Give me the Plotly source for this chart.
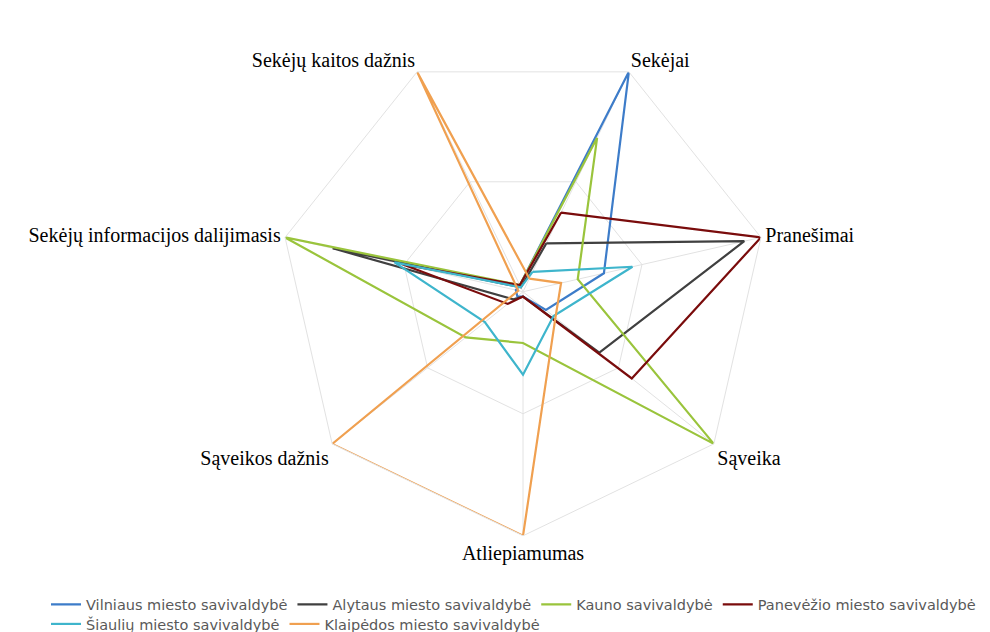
import plotly.graph_objects as go

# axes of the radar, clockwise from "Sekėjai"
categories = [
    "Sekėjai",
    "Pranešimai",
    "Sąveika",
    "Atliepiamumas",
    "Sąveikos dažnis",
    "Sekėjų informacijos dalijimasis",
    "Sekėjų kaitos dažnis",
]

vilniaus = [1.00, 0.34, 0.12, 0.02, 0.03, 0.03, 0.03]
alytaus = [0.22, 0.93, 0.40, 0.02, 0.05, 0.80, 0.02]
kauno = [0.70, 0.23, 1.00, 0.21, 0.30, 1.00, 0.03]
panevezio = [0.36, 1.00, 0.57, 0.02, 0.08, 0.51, 0.03]
siauliu = [0.09, 0.46, 0.16, 0.34, 0.20, 0.54, 0.02]
klaipedos = [0.06, 0.16, 0.17, 1.00, 1.00, 0.02, 1.00]

series = [
    ("Vilniaus miesto savivaldybė", vilniaus, "#3d7cc9", "legend"),
    ("Alytaus miesto savivaldybė", alytaus, "#404040", "legend"),
    ("Kauno savivaldybė", kauno, "#9ac43c", "legend"),
    ("Panevėžio miesto savivaldybė", panevezio, "#7a0c0c", "legend"),
    ("Šiaulių miesto savivaldybė", siauliu, "#3eb5cc", "legend2"),
    ("Klaipėdos miesto savivaldybė", klaipedos, "#f0a050", "legend2"),
]

GRID = "#e2e2e2"
LEGEND_FONT = dict(family="DejaVu Sans", size=14.5, color="#595959")

fig = go.Figure()
for name, vals, color, leg in series:
    # close the polygon by repeating the first point
    fig.add_scatterpolar(
        r=vals + vals[:1], theta=categories + categories[:1],
        mode="lines", name=name, legend=leg,
        line=dict(color=color, width=2.2),
    )

cx, cy, R = 515, 286, 246
W, H = 990, 632
fig.update_layout(
    width=W, height=H,
    margin=dict(l=0, r=0, t=0, b=0),
    paper_bgcolor="white",
    hovermode=False,
    polar=dict(
        domain=dict(x=[(cx - R) / W, (cx + R) / W],
                    y=[(H - cy - R) / H, (H - cy + R) / H]),
        bgcolor="white",
        gridshape="linear",
        radialaxis=dict(range=[0, 1], tickvals=[0.5, 1], showticklabels=False,
                        ticks="", showline=False, gridcolor=GRID, gridwidth=1),
        angularaxis=dict(direction="clockwise", rotation=64.29, ticks="",
                         showline=True, linecolor=GRID, gridcolor=GRID,
                         tickfont=dict(family="Liberation Serif", size=20, color="black")),
    ),
    legend=dict(orientation="h", x=38 / W, y=1 - 585 / H, yanchor="top",
                font=LEGEND_FONT, itemwidth=30, bgcolor="rgba(0,0,0,0)"),
    legend2=dict(orientation="h", x=38 / W, y=1 - 605 / H, yanchor="top",
                 font=LEGEND_FONT, itemwidth=30, bgcolor="rgba(0,0,0,0)"),
)

fig.write_html("out.html")
